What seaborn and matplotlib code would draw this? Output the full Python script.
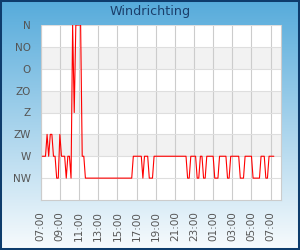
import numpy as np
import pandas as pd
import matplotlib
matplotlib.use("Agg")
import matplotlib.pyplot as plt
import matplotlib.dates as mdates
from matplotlib.patches import Rectangle
import seaborn as sns

# ---- data -------------------------------------------------------------
start_time = "2024-01-01 07:10"          # first reading
sample_step = "10min"                    # reading interval
directions = (
    "W W W ZW W ZW ZW W W NW "
    "NW ZW W W W NW W W NW N "
    "Z N N N N W W NW NW NW "
    "NW NW NW NW NW NW NW NW NW NW "
    "NW NW NW NW NW NW NW NW NW NW "
    "NW NW NW NW NW NW NW W W W "
    "W W W NW W W W NW NW NW "
    "W W W W W W W W W W "
    "W W W W W W W W W W "
    "W NW NW W W W W NW NW W "
    "W NW NW W W W W W NW NW "
    "NW W W W W W NW NW W W "
    "W W W W NW NW NW W W W "
    "W W NW NW NW NW NW W W W "
    "NW NW W W W W"
).split()
dir_labels = ["NW", "W", "ZW", "Z", "ZO", "O", "NO", "N"]
tick_hours = [1, 3, 5, 7, 9, 11, 13, 15, 17, 19, 21, 23]
title = "Windrichting"

# ---- build table --------------------------------------------------------
times = pd.date_range(start_time, periods=len(directions), freq=sample_step)
level = {lab: i + 1 for i, lab in enumerate(dir_labels)}
df = pd.DataFrame({"tijd": times, "richting": [level[d] for d in directions]})

# ---- figure -------------------------------------------------------------
sns.set_theme(style="white")
plt.rcParams["font.family"] = ["DejaVu Sans"]

fig = plt.figure(figsize=(3, 2.5), dpi=100)

# background gradient
bg = fig.add_axes([0, 0, 1, 1], zorder=-10)
top_c = np.array([86, 171, 219]) / 255
bot_c = np.array([248, 251, 253]) / 255
t = np.linspace(0, 1, 250)[:, None, None]
grad = top_c * (1 - t) + bot_c * t
grad = np.repeat(grad, 2, axis=1)
bg.imshow(grad, aspect="auto", extent=[0, 1, 0, 1])
bg.set_axis_off()

ax = fig.add_axes([40.7 / 300, 1 - 200 / 250, 240 / 300, 175 / 250])
ax.set_facecolor("white")

for lo in (2, 4, 6):
    ax.axhspan(lo, lo + 1, color="#f2f2f2", lw=0, zorder=0)

sns.lineplot(data=df, x="tijd", y="richting", ax=ax, color="#ff0000",
             linewidth=0.8, zorder=3)

ax.set_ylim(0, 8)
ax.set_yticks(range(1, 9))
ax.set_yticklabels(dir_labels)
x0 = pd.Timestamp("2024-01-01 07:00")
ax.set_xlim(x0, x0 + pd.Timedelta(minutes=1503))
ax.xaxis.set_major_locator(mdates.HourLocator(byhour=tick_hours))
ax.xaxis.set_major_formatter(mdates.DateFormatter("%H:%M"))

ax.grid(axis="y", color="#dedede", lw=0.8, zorder=1)
ax.grid(axis="x", color="#cccccc", lw=0.8, zorder=1)
ax.set_axisbelow(True)
ax.tick_params(axis="both", length=0, colors="#555555", labelsize=7.5)
ax.tick_params(axis="y", pad=7)
ax.tick_params(axis="x", pad=8)
for lab in ax.get_xticklabels():
    lab.set_rotation(90)
ax.set_xlabel("")
ax.set_ylabel("")
for side in ("left", "right", "bottom"):
    ax.spines[side].set_color("#cccccc")
    ax.spines[side].set_linewidth(0.8)
ax.spines["top"].set_visible(False)

fig.text(0.5, 1 - 11.7 / 250, title, ha="center", va="center",
         fontsize=9.2, color="#1b3f6b")

fig.patches.append(Rectangle((0, 0), 1, 1, transform=fig.transFigure,
                             fill=False, lw=2.9, ec="#0e3c6c", zorder=10))

fig.savefig("out.png", dpi=100)
